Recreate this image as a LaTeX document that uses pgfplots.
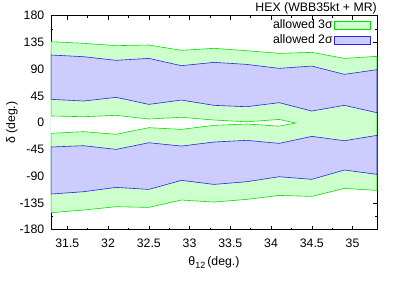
\documentclass[border=0pt]{standalone}
\usepackage{pgfplots}
\pgfplotsset{compat=1.18}
\usepackage{fontspec}
\setmainfont{Liberation Sans}
\definecolor{gline}{RGB}{0,225,0}
\definecolor{gfill}{RGB}{204,255,204}
\definecolor{bline}{RGB}{40,40,220}
\definecolor{bfill}{RGB}{204,204,255}
\newcommand{\cf}{\fontsize{12.3bp}{14bp}\selectfont}
\begin{document}
\cf
\begin{tikzpicture}
\path[use as bounding box] (-51bp,-55.3bp) rectangle ++(407bp,285bp);
\begin{axis}[
  at={(0,0)}, anchor=south west,
  scale only axis, width=326bp, height=214bp,
  xmin=31.3, xmax=35.3, ymin=-180, ymax=180,
  xtick={31.5,32,32.5,33,33.5,34,34.5,35},
  xticklabels={31.5,32,32.5,33,33.5,34,34.5,35},
  ytick={-180,-135,-90,-45,0,45,90,135,180},
  minor x tick num=1, minor y tick num=1,
  major tick length=4bp, minor tick length=2bp,
  tick style={black, line width=0.6pt},
  axis line style={line width=0.8pt},
  /pgf/number format/assume math mode=true,
  ticklabel style={font=\cf},
  yticklabel style={xshift=-2.5bp},
  xticklabel style={yshift=-4.5bp},
  xlabel={θ\raisebox{-0.45ex}{\fontsize{9bp}{10bp}\selectfont 12}\,(deg.)},
  ylabel={δ (deg.)},
  xlabel style={at={(axis description cs:0.5,-0.1556)}, anchor=center, font=\cf},
  ylabel style={at={(axis description cs:-0.1196,0.5)}, anchor=center, font=\cf},
  title={HEX (WBB35kt + MR)},
  every axis title/.style={at={(axis description cs:1,1)}, anchor=base east, yshift=4.5bp, inner sep=0pt, font=\cf},
  legend style={at={(axis description cs:1,1)}, anchor=north east, xshift=-6.5bp, yshift=-3.5bp, draw=none, fill=none, font=\cf, row sep=2bp, inner sep=0pt,
    nodes={inner sep=1bp, text height=8.5bp, text depth=2bp}},
  legend plot pos=right,
  legend cell align=right,
  legend image code/.code={\draw[#1] (0bp,-4bp) rectangle (36bp,4bp);},
]
% 3 sigma outer region
\addplot[draw=gline, fill=gfill, line width=0.6pt] coordinates {
(31.3,136.3) (31.7,133.5) (32.1,129.6) (32.5,130.7) (32.9,121.7) (33.3,125.1) (33.7,121.1) (34.1,116.7) (34.5,118.3) (34.9,108.2) (35.3,111.6)
(35.3,-113.9) (34.9,-110.5) (34.5,-124.0) (34.1,-122.3) (33.7,-129.0) (33.3,-133.5) (32.9,-130.1) (32.5,-142.5) (32.1,-141.3) (31.7,-146.9) (31.3,-151.4)
} -- cycle;
\addlegendentry{allowed 3σ}
% 2 sigma upper band
\addplot[draw=bline, fill=bfill, line width=0.6pt] coordinates {
(31.3,113.9) (31.7,111.0) (32.1,104.9) (32.5,108.2) (32.9,95.9) (33.3,101.5) (33.7,98.1) (34.1,91.4) (34.5,95.3) (34.9,81.3) (35.3,89.2)
(35.3,16.8) (34.9,29.2) (34.5,19.6) (34.1,33.7) (33.7,26.9) (33.3,29.2) (32.9,38.1) (32.5,30.8) (32.1,42.6) (31.7,36.5) (31.3,39.3)
} -- cycle;
\addlegendentry{allowed 2σ}
% 2 sigma lower band
\addplot[draw=bline, fill=bfill, line width=0.6pt, forget plot] coordinates {
(31.3,-40.9) (31.7,-38.7) (32.1,-44.9) (32.5,-33.7) (32.9,-39.3) (33.3,-32.5) (33.7,-29.7) (34.1,-34.8) (34.5,-23.0) (34.9,-30.3) (35.3,-21.3)
(35.3,-86.9) (34.9,-79.6) (34.5,-95.3) (34.1,-90.9) (33.7,-99.3) (33.3,-103.8) (32.9,-97.0) (32.5,-112.2) (32.1,-108.8) (31.7,-116.1) (31.3,-120.0)
} -- cycle;
% excluded hole
\addplot[draw=gline, fill=white, line width=0.6pt, forget plot] coordinates {
(31.3,11.3) (31.7,10.1) (32.1,12.4) (32.5,6.2) (32.9,9.1) (33.3,4.5) (33.7,1.5) (34.1,5.5) (34.3,-0.5)
(34.1,-5.8) (33.7,-2.2) (33.3,-4.5) (32.9,-11.2) (32.5,-8.4) (32.1,-19.5) (31.7,-15.1) (31.3,-17.9)
};
\end{axis}
\end{tikzpicture}
\end{document}
